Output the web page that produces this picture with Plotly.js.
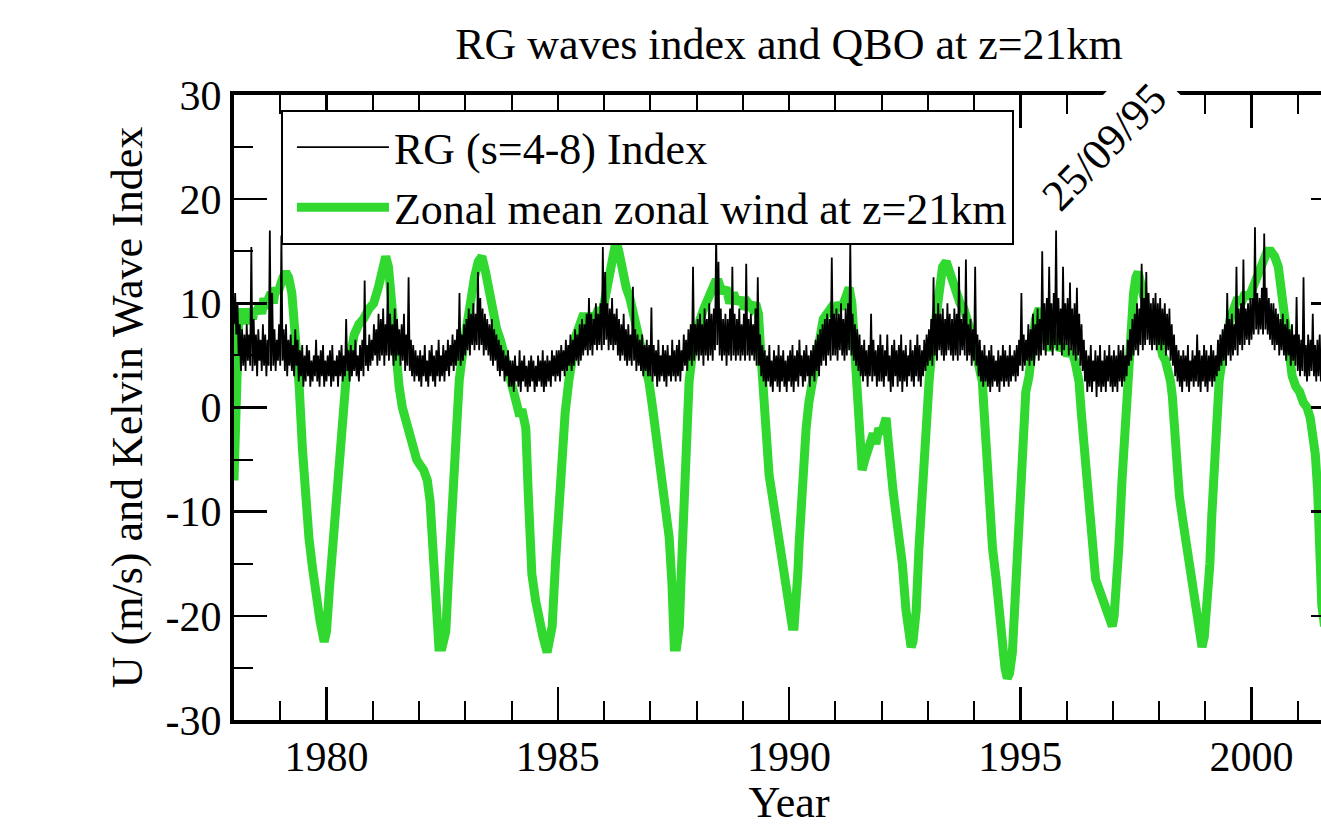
<!DOCTYPE html>
<html>
<head>
<meta charset="utf-8">
<script src="https://cdn.plot.ly/plotly-3.0.1.min.js"></script>
<style>
  html, body { margin: 0; padding: 0; background: #ffffff; overflow: hidden; }
  #chart { width: 1400px; height: 827px; }
</style>
</head>
<body>
<div id="chart"></div>
<script>
// ---------- DATA ----------
const chartTitle = "RG waves index and QBO at z=21km";
const xAxisTitle = "Year";
const yAxisTitle = "U (m/s) and Kelvin Wave Index";
const rgName = "RG (s=4-8) Index";
const qboName = "Zonal mean zonal wind at z=21km";
const markerLabel = "25/09/95";
const markerYear = 1996.80;
const markerValue = 25.0;

const yTickVals = [-30, -20, -10, 0, 10, 20, 30];
const yTickText = ["-30", "-20", "-10", "0", "10", "20", "30"];

// RG index sampled every 0.025 year starting 1978.000 (one row = a quarter year)
const rgStartYear = 1978.0;
const rgStepYear = 0.025;
const rgIndex = [
  // 1978
  8, 11, 7, 10, 5, 8, 3.5, 7.5, 4, 7,
  3.5, 8, 4.5, 7, 4, 15.4, 3.5, 8.5, 4, 7,
  3, 7.5, 4.5, 6.5, 3.5, 8, 4, 7, 3, 6.5,
  4, 17, 3.5, 11, 4, 7.5, 3.5, 6.5, 4.5, 8,
  // 1979
  4, 16.5, 4.5, 7.5, 3.5, 8, 3, 6.5, 4, 7,
  3.5, 6, 3, 7.5, 4, 6.5, 2.5, 5.5, 3, 6,
  2, 5, 2.5, 6, 3, 5.5, 2, 4.5, 2.5, 5,
  3, 6.5, 2.5, 5, 2, 5.5, 3, 6, 2, 4.5,
  // 1980
  2.5, 5, 3, 5.5, 2, 6, 2.5, 4.5, 3, 5,
  2, 5.5, 3, 6, 2.5, 5, 3, 8.5, 3.5, 5.5,
  2.5, 6, 3, 5.5, 3.5, 6.5, 3, 5, 2.5, 6,
  3.5, 6.5, 3, 12.2, 4, 6, 3.5, 7, 4, 6.5,
  // 1981
  4.5, 8, 5, 7.5, 4, 9, 4.5, 8.5, 5, 9.5,
  4, 8, 5, 12, 4.5, 9, 5, 8, 4, 9.5,
  4.5, 8.5, 5, 7.5, 4, 8, 4.5, 9, 3.5, 7,
  4, 12.5, 3.5, 6.5, 3, 6, 2.5, 5.5, 3, 5,
  // 1982
  2.5, 5.5, 2, 5, 3, 6, 2.5, 4.5, 2, 5.5,
  3, 6, 2.5, 5, 2, 5.5, 3, 6.5, 2.5, 5,
  3, 6, 2.5, 5.5, 3.5, 6.5, 3, 6, 4, 7,
  3.5, 6.5, 4, 7.5, 4.5, 11, 4, 7, 4.5, 8,
  // 1983
  5, 8.5, 5.5, 9.5, 5, 9, 6, 10, 5.5, 9,
  6, 13, 5.5, 10.5, 6, 9.5, 5, 9, 5.5, 8.5,
  5, 8, 4.5, 8.5, 4, 7.5, 4.5, 7, 3.5, 6.5,
  3, 6, 3.5, 5.5, 2.5, 5, 3, 5.5, 2, 4.5,
  // 1984
  2, 4.5, 1.5, 5, 2.5, 4, 2, 5.5, 1.5, 4.5,
  2.5, 5, 2, 4, 1.5, 4.5, 2, 5, 2.5, 4.5,
  1.5, 4, 2, 5, 2.5, 4.5, 2, 5.5, 1.5, 4.5,
  2, 5, 2.5, 4.5, 2, 5.5, 3, 5, 2.5, 5.5,
  // 1985
  3, 5.5, 2.5, 6, 3.5, 5.5, 3, 6.5, 3.5, 6,
  4, 7, 3.5, 6.5, 4, 7.5, 4.5, 7, 4, 8,
  4.5, 8.5, 5, 8, 5.5, 9, 5, 10.5, 5.5, 9,
  5, 8.5, 6, 10, 5.5, 9, 6, 10, 5.5, 15.4,
  // 1986
  6, 13, 6.5, 10, 5.5, 9.5, 6, 10.5, 5.5, 9,
  6, 9.5, 5, 8.5, 4.5, 8, 5, 9, 4.5, 7.5,
  4, 8, 4.5, 7, 4, 11.6, 4.5, 7.5, 3.5, 7,
  4, 6.5, 3.5, 7, 3, 6, 3.5, 6.5, 3, 6,
  // 1987
  3, 9.6, 2.5, 6, 3, 5.5, 2, 6.5, 2.5, 5,
  3, 6, 2.5, 5.5, 2, 6, 3, 5, 2.5, 6.5,
  3, 5.5, 2.5, 6, 3, 6.5, 2.5, 5.5, 3.5, 7,
  4, 6.5, 3.5, 7.5, 4.5, 8, 4, 13.5, 4.5, 8,
  // 1988
  5, 8.5, 4.5, 9, 5, 8, 4, 9.5, 5, 8.5,
  4.5, 10, 5, 9, 4.5, 9.5, 5.5, 17, 6, 14,
  5, 9.5, 4.5, 8.5, 5, 9, 4, 8.5, 5, 9.5,
  4.5, 13.5, 5, 9, 4.5, 8.5, 5, 9.5, 4.5, 8,
  // 1989
  5, 9, 4.5, 13.8, 5, 8.5, 4.5, 9, 5, 8,
  4.5, 9.5, 4, 12.5, 4, 7, 3, 6, 2.5, 5.5,
  2, 5, 2.5, 6, 2, 4.5, 1.5, 5.5, 2.5, 5,
  2, 6, 1.5, 5, 2.5, 5.5, 2, 4.5, 1.5, 5,
  // 1990
  2.5, 5.5, 2, 6, 1.5, 5, 2.5, 5.5, 2, 6.5,
  3, 5, 2, 5.5, 2.5, 6, 3, 5, 2, 5.5,
  3, 6, 2.5, 6.5, 3.5, 7, 3, 7.5, 4, 8,
  4.5, 8.5, 4, 9, 5, 8.5, 4.5, 14.4, 5, 9,
  // 1991
  5, 9.5, 4.5, 9, 5.5, 10, 5, 8.5, 4.5, 9.5,
  5, 10, 5.5, 15.8, 5, 9, 4.5, 8, 4, 7.5,
  3.5, 7, 3, 6, 2.5, 6.5, 3, 5.5, 2, 6,
  3, 9, 2.5, 6.5, 3, 5.5, 2, 6, 2.5, 7,
  // 1992
  2.5, 6, 2, 5.5, 3, 7, 2.5, 5, 1.5, 6,
  2, 6.5, 3, 5.5, 2, 6, 2.5, 7, 1.5, 5.5,
  2.5, 6, 2, 5, 3, 6.5, 2.5, 5.5, 2, 6,
  3, 7, 2.5, 6, 2, 5.5, 3, 6.5, 3.5, 7,
  // 1993
  4, 7.5, 4.5, 8.5, 4, 12.5, 5, 9, 4.5, 10,
  5.5, 9, 5, 9.5, 4.5, 8.5, 5, 10, 5.5, 9,
  5, 8.5, 4.5, 9.5, 5, 9, 4.5, 13.5, 5, 8.5,
  5.5, 9, 5, 14.2, 4.5, 8, 5, 8.5, 4, 7.5,
  // 1994
  4.5, 13.5, 4, 7, 3, 6.5, 2.5, 5.5, 2, 6,
  2.5, 5, 2, 5.5, 1.5, 6, 2, 5, 2.5, 4.5,
  2, 5.5, 1.5, 5, 2.5, 6, 2, 5.5, 2.5, 5,
  2, 6, 2.5, 5, 3, 5.5, 2.5, 6, 3, 6.5,
  // 1995
  4, 11, 3.5, 7, 4, 6.5, 4.5, 8, 4, 7.5,
  4.5, 9, 4, 8, 5, 9.5, 4.5, 8.5, 5, 15,
  5.5, 10, 5, 10.5, 6, 13.5, 5.5, 10, 5, 11,
  6, 17, 5.5, 10.5, 6, 9.5, 5, 13.5, 5.5, 10,
  // 1996
  6, 10.5, 5, 12, 5.5, 9.5, 5, 10, 4.5, 11.5,
  5, 9, 4, 8, 3.5, 6.5, 2.5, 5.5, 1.5, 5,
  2, 6, 1.5, 4.5, 2.5, 5.5, 1, 5, 2, 6,
  1.5, 4.5, 2, 5.5, 1.5, 5, 2.5, 6, 2, 5,
  // 1997
  1.5, 5.5, 2, 5, 1.5, 6, 2.5, 5.5, 2, 6,
  2.5, 5, 3, 6.5, 4, 7.5, 4.5, 8.5, 5, 9,
  5.5, 10, 5, 9.5, 6, 13.8, 5.5, 10.5, 6, 13,
  6.5, 11, 6, 10, 5.5, 10.5, 6, 11, 5.5, 10,
  // 1998
  6, 10.5, 5.5, 9.5, 6, 10, 5, 9, 5.5, 9.5,
  4.5, 8, 4, 7, 3, 6, 2.5, 5.5, 2, 5,
  1.5, 5.5, 2.5, 5, 2, 6, 1.5, 4.5, 2.5, 5.5,
  2, 5, 2.5, 7, 2, 5.5, 1.5, 5, 2.5, 6,
  // 1999
  2, 5.5, 1.5, 5, 2.5, 6, 2, 5.5, 2.5, 5,
  3, 6.5, 3.5, 7, 4, 7.5, 4.5, 8, 4, 11,
  5, 8.5, 4.5, 9, 5, 8, 5.5, 13.5, 5, 9.5,
  6, 10, 5.5, 14.2, 6, 9.5, 6.5, 10, 6, 10.5,
  // 2000
  6.5, 10.5, 7, 17.3, 7.5, 11, 7, 10.5, 7.5, 11.5,
  7, 16.7, 7.5, 11.5, 7, 10.5, 6.5, 10, 6, 10,
  5.5, 9.5, 6, 9, 5, 8.5, 5.5, 9, 5, 8,
  4.5, 8.5, 5, 7.5, 4, 8, 4.5, 7, 4, 10.6,
  // 2001
  3.5, 7, 3, 6.5, 3.5, 12.5, 3, 6, 2.5, 7,
  3, 6.5, 3.5, 9, 3, 6, 2.5, 6.5, 3, 7,
  2.5, 6, 3, 6.5, 3
];

// Zonal mean zonal wind (QBO) at z=21km
const qboYear = [
  1978.00, 1978.03, 1978.06, 1978.10, 1978.15, 1978.20, 1978.25, 1978.30, 1978.35, 1978.40,
  1978.45, 1978.50, 1978.55, 1978.60, 1978.65, 1978.70, 1978.75, 1978.80, 1978.85, 1978.90,
  1978.95, 1979.00, 1979.06, 1979.12, 1979.18, 1979.25, 1979.33, 1979.41, 1979.48, 1979.55,
  1979.62, 1979.70, 1979.78, 1979.86, 1979.95, 1980.00, 1980.07, 1980.14, 1980.21, 1980.28,
  1980.35, 1980.42, 1980.50, 1980.60, 1980.70, 1980.80, 1980.92, 1981.02, 1981.12, 1981.20,
  1981.28, 1981.34, 1981.40, 1981.46, 1981.52, 1981.57, 1981.64, 1981.72, 1981.80, 1981.88,
  1981.95, 1982.02, 1982.10, 1982.18, 1982.24, 1982.28, 1982.33, 1982.38, 1982.43, 1982.50,
  1982.58, 1982.64, 1982.70, 1982.76, 1982.82, 1982.87, 1982.95, 1983.03, 1983.12, 1983.20,
  1983.28, 1983.36, 1983.44, 1983.52, 1983.60, 1983.68, 1983.76, 1983.84, 1983.92, 1984.00,
  1984.08, 1984.16, 1984.24, 1984.31, 1984.36, 1984.40, 1984.44, 1984.52, 1984.60, 1984.68,
  1984.77, 1984.83, 1984.88, 1984.95, 1985.02, 1985.09, 1985.16, 1985.24, 1985.32, 1985.40,
  1985.48, 1985.56, 1985.64, 1985.72, 1985.80, 1985.88, 1985.96, 1986.03, 1986.10, 1986.17,
  1986.26, 1986.32, 1986.40, 1986.48, 1986.56, 1986.64, 1986.72, 1986.80, 1986.88, 1986.97,
  1987.05, 1987.12, 1987.19, 1987.25, 1987.33, 1987.41, 1987.47, 1987.52, 1987.57, 1987.63,
  1987.67, 1987.70, 1987.75, 1987.79, 1987.84, 1987.92, 1988.00, 1988.08, 1988.16, 1988.24,
  1988.32, 1988.40, 1988.48, 1988.56, 1988.64, 1988.72, 1988.80, 1988.88, 1988.96, 1989.04,
  1989.12, 1989.20, 1989.28, 1989.34, 1989.38, 1989.42, 1989.50, 1989.57, 1989.64, 1989.72,
  1989.80, 1989.88, 1989.95, 1990.00, 1990.07, 1990.11, 1990.15, 1990.19, 1990.22, 1990.28,
  1990.33, 1990.37, 1990.43, 1990.50, 1990.58, 1990.66, 1990.74, 1990.82, 1990.90, 1990.98,
  1991.06, 1991.14, 1991.22, 1991.30, 1991.36, 1991.41, 1991.45, 1991.49, 1991.52, 1991.58,
  1991.64, 1991.70, 1991.76, 1991.82, 1991.88, 1991.94, 1992.00, 1992.06, 1992.10, 1992.14,
  1992.18, 1992.25, 1992.32, 1992.39, 1992.45, 1992.53, 1992.60, 1992.64, 1992.68, 1992.75,
  1992.81, 1992.88, 1992.97, 1993.03, 1993.10, 1993.17, 1993.24, 1993.32, 1993.40, 1993.47,
  1993.55, 1993.62, 1993.70, 1993.78, 1993.86, 1993.94, 1994.02, 1994.08, 1994.14, 1994.18,
  1994.22, 1994.26, 1994.33, 1994.40, 1994.48, 1994.55, 1994.61, 1994.67, 1994.72, 1994.77,
  1994.83, 1994.87, 1994.91, 1994.95, 1994.98, 1995.02, 1995.05, 1995.12, 1995.19, 1995.26,
  1995.33, 1995.41, 1995.48, 1995.55, 1995.62, 1995.70, 1995.78, 1995.86, 1995.94, 1996.02,
  1996.10, 1996.18, 1996.23, 1996.27, 1996.32, 1996.37, 1996.43, 1996.49, 1996.56, 1996.63,
  1996.71, 1996.79, 1996.86, 1996.93, 1996.99, 1997.03, 1997.07, 1997.13, 1997.20, 1997.25,
  1997.29, 1997.35, 1997.40, 1997.45, 1997.50, 1997.55, 1997.60, 1997.66, 1997.72, 1997.78,
  1997.84, 1997.90, 1997.96, 1998.02, 1998.08, 1998.14, 1998.20, 1998.25, 1998.29, 1998.34,
  1998.39, 1998.44, 1998.52, 1998.60, 1998.67, 1998.73, 1998.80, 1998.87, 1998.93, 1998.98,
  1999.04, 1999.10, 1999.14, 1999.18, 1999.22, 1999.30, 1999.38, 1999.46, 1999.54, 1999.62,
  1999.70, 1999.78, 1999.86, 1999.94, 2000.02, 2000.10, 2000.18, 2000.26, 2000.34, 2000.42,
  2000.50, 2000.58, 2000.65, 2000.72, 2000.80, 2000.88, 2000.96, 2001.04, 2001.12, 2001.20,
  2001.27, 2001.33, 2001.38, 2001.43, 2001.47, 2001.52, 2001.58
];
const qboWind = [
  -7, -1, 4, 8, 9.5, 8, 9.5, 8, 9.5, 8.5,
  9.5, 9, 10, 9, 10.5, 9.5, 10.5, 11, 10, 11.5,
  11, 12, 12.5, 13, 12.5, 11, 7, 2, -4, -10,
  -12.5, -15.5, -18.5, -20.5, -22.5, -21.5, -17, -12.5, -8, -4,
  0, 2.6, 4.5, 7, 8, 8.5, 9.5, 10, 11.5, 13,
  14.5, 13.5, 10, 7, 4.5, 2, 0, -1.5, -3, -4,
  -5, -5.5, -6, -7, -9, -12, -16, -20, -23, -23,
  -21.5, -16, -10, -5, -1, 2.6, 5.5, 8, 10.5, 12.5,
  14, 14.5, 13, 11, 9, 7.5, 6.5, 5, 3.5, 2,
  0.5, -0.5, -0.5, -2, -8, -13, -16, -18.5, -20.5, -22,
  -23.5, -22.5, -21, -15, -9, -4, -0.5, 2.6, 5, 7,
  8, 9, 8, 9, 8.5, 9.5, 9, 10.5, 12, 14,
  16, 15, 13, 11.5, 10.5, 9, 7.5, 5.5, 4, 2.5,
  0, -2.5, -5, -7.5, -10, -12.5, -17, -23, -23, -21,
  -16, -12, -6, -3, 2.5, 5.5, 7.5, 8.5, 9.5, 10.5,
  11, 12, 12, 11, 11.5, 10, 11, 10, 10.5, 9.5,
  10, 9.5, 10, 9, 6, 2.5, -3.5, -6.5, -8.5, -11,
  -13, -15.5, -17.5, -19, -21, -21, -19, -16, -13, -7,
  -4, -2, 0.5, 2.6, 5, 7, 8.5, 9, 9.5, 9,
  10, 9.5, 10.5, 11.5, 10, 6, 2.5, -1, -3.5, -6,
  -5, -4, -3, -2.5, -3.5, -2, -2.5, -1.5, -1, -3,
  -5.5, -8, -10.5, -12.5, -15, -19.5, -22.5, -23, -22.5, -19.5,
  -13.5, -7, -0.5, 2.6, 6, 9, 11.5, 13.5, 14, 13,
  11.5, 11, 10, 9.5, 8.5, 7.5, 6, 4.5, 3.5, 2.5,
  -0.5, -4, -10, -13.5, -16.5, -20, -23, -25, -26, -25.5,
  -23.5, -20, -16.5, -11, -7, -3.5, -0.5, 1.5, 3, 6,
  8.5, 9.5, 8, 6.5, 5.5, 6.5, 7, 5.5, 6, 5,
  5.5, 4.5, 3.5, 2.5, -0.5, -3.5, -7, -11, -15, -16.5,
  -17.5, -18.5, -19.5, -20.5, -21, -20, -18, -13.5, -7, -3,
  -0.5, 2.6, 7, 11, 12.5, 13, 12, 10.5, 9.5, 8.5,
  8, 7, 7.5, 6, 5, 4.5, 3.5, 2.5, 1, -3,
  -6, -8.5, -11, -13.5, -16, -18, -20, -22, -23, -22,
  -19.5, -15, -10.5, -6, -2.5, 2.5, 5, 7, 8.5, 9.5,
  10.5, 10, 11, 10.5, 11.5, 12.5, 13.5, 14.5, 15, 15,
  14.5, 13.5, 11, 8, 5.5, 3, 2, 1.5, 0.5, 0,
  -1, -2.5, -4.5, -8, -14, -19, -21
];

// ---------- BUILD ----------
const rgYear = rgIndex.map((_, i) => +(rgStartYear + i * rgStepYear).toFixed(3));

const serif = "'Liberation Serif', 'Times New Roman', Times, serif";

const traces = [
  {
    x: qboYear, y: qboWind, type: 'scatter', mode: 'lines', name: qboName,
    line: { color: 'rgb(48,216,48)', width: 9 }
  },
  {
    x: rgYear, y: rgIndex, type: 'scatter', mode: 'lines', name: rgName,
    line: { color: '#000000', width: 1.8 }
  }
];

const axisCommon = {
  showline: true, linecolor: '#000', linewidth: 4, mirror: 'allticks',
  ticks: 'inside', ticklen: 33, tickwidth: 2.5, tickcolor: '#000',
  showgrid: false, zeroline: false,
  tickfont: { family: serif, size: 42, color: '#000' }
};

const layout = {
  width: 1400, height: 827,
  margin: { l: 234, r: 56, t: 95, b: 107, pad: 0 },
  paper_bgcolor: '#fff', plot_bgcolor: '#fff',
  showlegend: true,
  title: {
    text: chartTitle, font: { family: serif, size: 44, color: '#000' },
    x: 0.5, xref: 'paper', xanchor: 'center',
    y: 0.947, yref: 'container', yanchor: 'middle'
  },
  xaxis: Object.assign({}, axisCommon, {
    range: [1978, 2002], tick0: 1980, dtick: 5, ticklabelstandoff: -3,
    minor: { tick0: 1980, dtick: 1, ticks: 'inside', ticklen: 19, tickwidth: 2, tickcolor: '#000', showgrid: false },
    title: { text: xAxisTitle, font: { family: serif, size: 44, color: '#000' }, standoff: 14 }
  }),
  yaxis: Object.assign({}, axisCommon, {
    range: [-30, 30], tickmode: 'array', tickvals: yTickVals, ticktext: yTickText,
    minor: { tick0: 0, dtick: 5, ticks: 'inside', ticklen: 19, tickwidth: 2, tickcolor: '#000', showgrid: false },
    title: { text: yAxisTitle, font: { family: serif, size: 44, color: '#000' }, standoff: 10 }
  }),
  legend: {
    x: 0.0423, y: 0.976, xanchor: 'left', yanchor: 'top',
    bgcolor: '#fff', bordercolor: '#000', borderwidth: 2,
    font: { family: serif, size: 44, color: '#000' },
    traceorder: 'reversed', itemwidth: 92, indentation: 9, tracegroupgap: 0
  },
  annotations: [{
    text: markerLabel, x: markerYear, y: markerValue, xref: 'x', yref: 'y',
    showarrow: false, textangle: -46, bgcolor: '#fff', borderpad: 12,
    font: { family: serif, size: 44, color: '#000' }
  }]
};

Plotly.newPlot('chart', traces, layout, { staticPlot: true, displayModeBar: false, responsive: false });
</script>
</body>
</html>
